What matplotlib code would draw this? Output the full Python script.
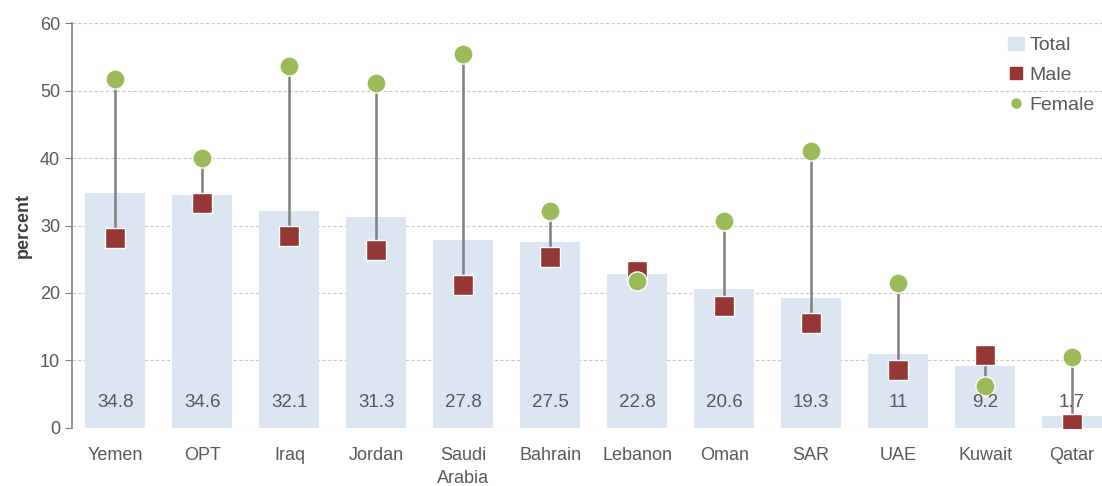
import numpy as np
import matplotlib.pyplot as plt
from matplotlib.lines import Line2D
from matplotlib.patches import Patch

countries = ['Yemen', 'OPT', 'Iraq', 'Jordan', 'Saudi\nArabia', 'Bahrain',
             'Lebanon', 'Oman', 'SAR', 'UAE', 'Kuwait', 'Qatar']
total = [34.8, 34.6, 32.1, 31.3, 27.8, 27.5, 22.8, 20.6, 19.3, 11, 9.2, 1.7]
total_labels = ['34.8', '34.6', '32.1', '31.3', '27.8', '27.5', '22.8', '20.6',
                '19.3', '11', '9.2', '1.7']
male = [28.1, 33.4, 28.5, 26.4, 21.2, 25.4, 23.2, 18.1, 15.5, 8.5, 10.8, 0.5]
female = [51.7, 40.0, 53.6, 51.1, 55.5, 32.2, 21.7, 30.6, 41.0, 21.5, 6.2, 10.5]

plt.rcParams['font.family'] = ['Liberation Sans', 'DejaVu Sans']
text_col = '#595959'

fig = plt.figure(figsize=(11.02, 4.86), dpi=100)
ax = fig.add_axes([0.0653, 0.12, 0.947, 0.832])

x = np.arange(len(countries))
ax.bar(x, total, width=0.69, color='#dce6f2', zorder=2)
ax.vlines(x, np.minimum(male, female), np.maximum(male, female),
          color='#7f7f7f', lw=1.8, zorder=3)
ax.scatter(x, male, marker='s', s=190, color='#953735', edgecolor='white',
           linewidth=1.0, zorder=4)
ax.scatter(x, female, marker='o', s=190, color='#9bbb59', edgecolor='white',
           linewidth=1.0, zorder=5)

for xi, lab in zip(x, total_labels):
    ax.text(xi, 3.7, lab, ha='center', va='center', fontsize=13.5, color=text_col, zorder=6)

ax.set_xlim(-0.5, 11.5)
ax.set_ylim(0, 60)
ax.set_yticks(range(0, 61, 10))
ax.set_xticks(x)
ax.set_xticklabels(countries, fontsize=13, color=text_col, linespacing=1.45)
ax.tick_params(axis='x', length=0, pad=14)
ax.tick_params(axis='y', labelsize=13, labelcolor=text_col, color='#7f7f7f',
               length=5, direction='out')
ax.yaxis.grid(True, linestyle=(0, (3, 2)), color='#c8c8c8', lw=0.8, zorder=0)
for s in ['top', 'right', 'bottom']:
    ax.spines[s].set_visible(False)
ax.spines['left'].set_color('#7f7f7f')
ax.spines['left'].set_linewidth(1.2)
ax.set_ylabel('percent', fontsize=13, fontweight='bold', color='#404040', labelpad=6)

handles = [Patch(color='#dce6f2'),
           Line2D([], [], marker='s', ls='', color='#953735', markersize=9),
           Line2D([], [], marker='o', ls='', color='#9bbb59', markersize=6.5)]
ax.legend(handles, ['Total', 'Male', 'Female'], loc='upper right',
          bbox_to_anchor=(0.997, 1.01), frameon=False, fontsize=14,
          handlelength=0.8, handletextpad=0.3, labelspacing=0.62,
          labelcolor=text_col)

fig.savefig('out.png', dpi=100)
